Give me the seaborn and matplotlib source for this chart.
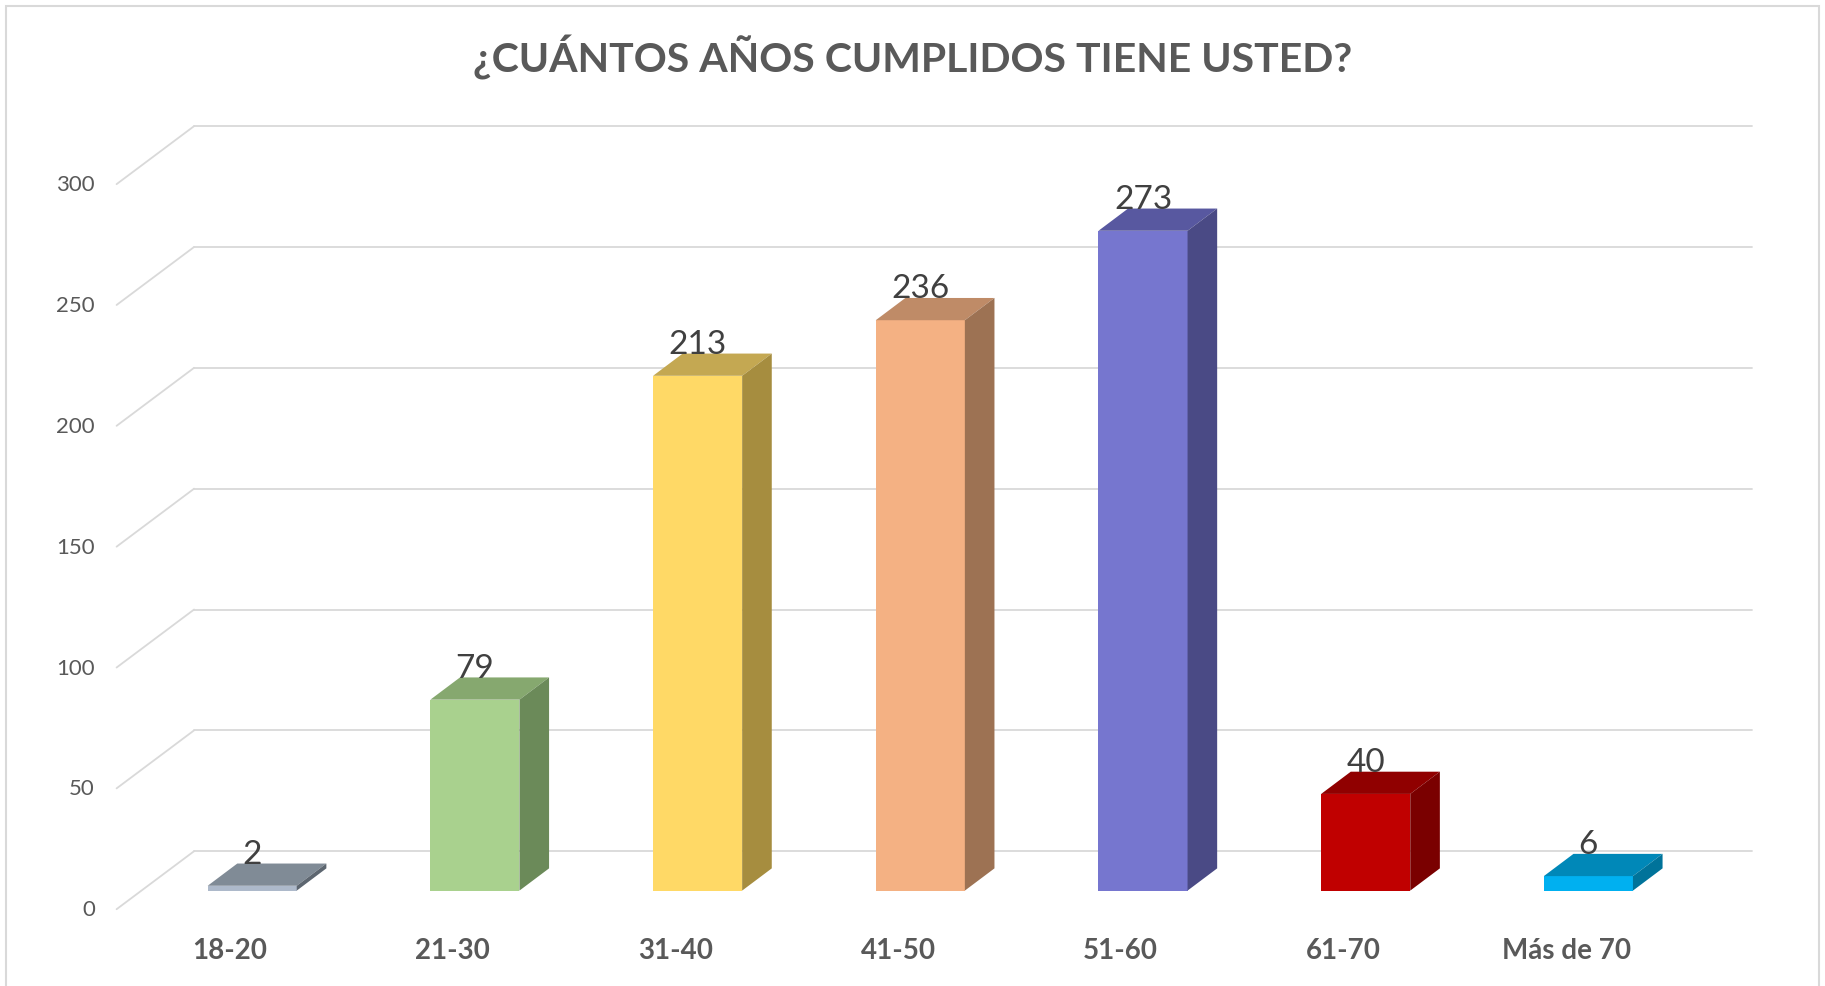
import matplotlib
matplotlib.use('Agg')
import matplotlib.pyplot as plt
from matplotlib.patches import Polygon, Rectangle
import pandas as pd
import seaborn as sns

# data
categories = ['18-20', '21-30', '31-40', '41-50', '51-60', '61-70', 'Más de 70']
counts = [2, 79, 213, 236, 273, 40, 6]
y_ticks = [0, 50, 100, 150, 200, 250, 300]
title = '¿CUÁNTOS AÑOS CUMPLIDOS TIENE USTED?'

# colours: front, top, side
front_colors = ['#ADB9CA', '#A9D18E', '#FFD966', '#F4B183', '#7676CF', '#C00000', '#00B0F0']
top_colors = ['#808B96', '#86A86F', '#C4A852', '#BF8B67', '#5858A0', '#900000', '#0088B8']
side_colors = ['#5D6670', '#6B8A59', '#A68D3F', '#9D7253', '#4A4A85', '#7A0000', '#00739A']


def plot_chart():
    sns.set_style('white')
    plt.rcParams['font.family'] = ['Lato', 'DejaVu Sans']

    fig = plt.figure(figsize=(18.25, 9.87), dpi=100)
    ax = fig.add_axes([0, 0, 1, 1])

    # depth of the 3d effect (category units, value units)
    bar_dx, bar_dy = 0.133, 9.2
    grid_back_dy = 16.3
    grid_front_dy = -7.7
    wall_front_x, wall_back_x, wall_right_x = -0.609, -0.261, 6.734
    grid_color = '#D9D9D9'

    # gridlines: front diagonal + back wall
    for v in y_ticks:
        ax.plot([wall_front_x, wall_back_x], [v + grid_front_dy, v + grid_back_dy],
                color=grid_color, lw=1.3, zorder=1)
        ax.plot([wall_back_x, wall_right_x], [v + grid_back_dy, v + grid_back_dy],
                color=grid_color, lw=1.3, zorder=1)
        ax.text(-0.706, v + grid_front_dy, str(v), ha='right', va='center',
                fontsize=16, color='#595959')

    data = pd.DataFrame({'Edad': categories, 'Cantidad': counts})
    sns.barplot(data=data, x='Edad', y='Cantidad', hue='Edad',
                palette=front_colors, width=0.4, legend=False,
                saturation=1, ax=ax, zorder=3)

    for i, patch in enumerate(ax.patches):
        x0 = patch.get_x()
        w = patch.get_width()
        h = patch.get_height()
        x1 = x0 + w
        patch.set_edgecolor('none')
        top = Polygon([(x0, h), (x1, h), (x1 + bar_dx, h + bar_dy), (x0 + bar_dx, h + bar_dy)],
                      closed=True, facecolor=top_colors[i], edgecolor='none', zorder=3)
        side = Polygon([(x1, 0), (x1 + bar_dx, bar_dy), (x1 + bar_dx, h + bar_dy), (x1, h)],
                       closed=True, facecolor=side_colors[i], edgecolor='none', zorder=3)
        ax.add_patch(top)
        ax.add_patch(side)
        ax.text(x0 + w / 2, h + 13.3, str(counts[i]), ha='center', va='center',
                fontsize=24, color='#404040', zorder=5)
        ax.text(x0 + w / 2 - 0.1, -24.6, categories[i], ha='center', va='center',
                fontsize=20, fontweight='bold', color='#595959')

    ax.set_xlim(-1.1325, 7.0624)
    ax.set_ylim(-39.47, 368.9)
    ax.axis('off')

    # chart frame
    fig.patches.append(Rectangle((6 / 1825, -0.1), (1819 - 6) / 1825, 1.1 - 7 / 987,
                                 transform=fig.transFigure, fill=False,
                                 edgecolor=grid_color, lw=1.5))

    fig.text(912.5 / 1825, 1 - 57 / 987, title, ha='center', va='center',
             fontsize=29.5, fontweight='bold', color='#595959')

    fig.savefig('out.png', dpi=100)
    plt.close(fig)


if __name__ == '__main__':
    plot_chart()
